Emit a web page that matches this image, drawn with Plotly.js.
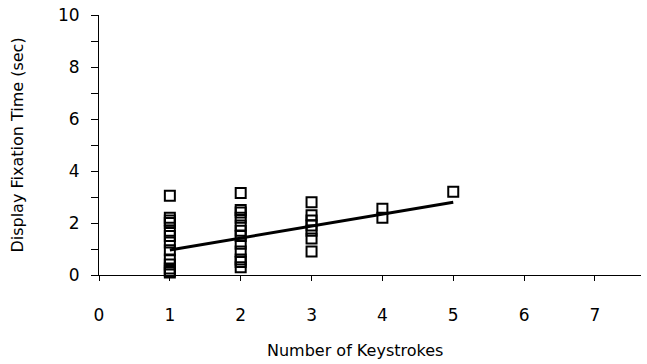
<!DOCTYPE html>
<html>
<head>
<meta charset="utf-8">
<script src="https://cdn.plot.ly/plotly-3.0.1.min.js"></script>
<style>
  html, body { margin: 0; padding: 0; background: #fff; }
  #chart { width: 647px; height: 364px; }
</style>
</head>
<body>
<div id="chart"></div>
<script>
// Display fixation time observed for each number of keystrokes
const keystrokes = [1, 2, 3, 4, 5];
const timesK1 = [3.05, 2.2, 2.1, 2.0, 1.7, 1.5, 1.25, 0.95, 0.6, 0.4, 0.25, 0.15, 0.1];
const timesK2 = [3.15, 2.5, 2.4, 2.2, 1.9, 1.7, 1.5, 1.2, 0.9, 0.6, 0.5, 0.3];
const timesK3 = [2.8, 2.3, 2.1, 1.9, 1.7, 1.4, 0.9];
const timesK4 = [2.55, 2.2];
const timesK5 = [3.2];

// Linear trend line end points
const trendX = [1, 5];
const trendY = [0.96, 2.8];

const xTickVals = [0, 1, 2, 3, 4, 5, 6, 7];
const yTickVals = [0, 2, 4, 6, 8, 10];

const groups = [timesK1, timesK2, timesK3, timesK4, timesK5];
const ptsX = [], ptsY = [];
groups.forEach((g, i) => g.forEach(v => { ptsX.push(keystrokes[i]); ptsY.push(v); }));

const FONT = 'DejaVu Sans, sans-serif';

const data = [
  {
    type: 'scatter', mode: 'markers', x: ptsX, y: ptsY,
    marker: { symbol: 'square-open', size: 10, color: '#000', line: { width: 2, color: '#000' } },
    hoverinfo: 'skip', cliponaxis: false
  },
  {
    type: 'scatter', mode: 'lines', x: trendX, y: trendY,
    line: { color: '#000', width: 3 }, hoverinfo: 'skip'
  }
];

const layout = {
  width: 647, height: 364,
  margin: { l: 99, r: 6, t: 15, b: 89 },
  paper_bgcolor: '#fff', plot_bgcolor: '#fff',
  showlegend: false,
  font: { family: FONT, size: 17, color: '#000' },
  xaxis: {
    range: [0, 7.65], tickvals: xTickVals,
    showgrid: false, zeroline: false,
    showline: true, linecolor: '#000', linewidth: 1,
    ticks: 'outside', ticklen: 5, tickwidth: 1, tickcolor: '#000',
    ticklabelstandoff: 20,
    tickfont: { family: FONT, size: 17, color: '#000' }
  },
  yaxis: {
    range: [0, 10], tickvals: yTickVals,
    showgrid: false, zeroline: false,
    showline: true, linecolor: '#000', linewidth: 1,
    ticks: 'outside', ticklen: 7, tickwidth: 1, tickcolor: '#000',
    minor: { dtick: 1, tick0: 0, ticks: 'outside', ticklen: 7, tickcolor: '#000', showgrid: false },
    ticklabelstandoff: 8,
    tickfont: { family: FONT, size: 17, color: '#000' },
    title: { text: 'Display Fixation Time (sec)', font: { family: FONT, size: 16, color: '#000' }, standoff: 30 }
  },
  annotations: [{
    text: 'Number of Keystrokes', xref: 'paper', yref: 'paper',
    x: 0.472, y: -0.29, xanchor: 'center', yanchor: 'middle',
    showarrow: false, font: { family: FONT, size: 16, color: '#000' }
  }]
};

Plotly.newPlot('chart', data, layout, { staticPlot: true, displayModeBar: false });
</script>
</body>
</html>
